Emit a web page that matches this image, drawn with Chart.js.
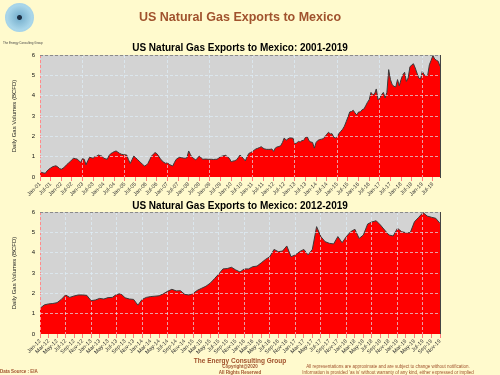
<!DOCTYPE html>
<html>
<head>
<meta charset="UTF-8">
<title>US Natural Gas Exports to Mexico</title>
<script src="https://cdn.jsdelivr.net/npm/chart.js@4.4.1/dist/chart.umd.min.js"></script>
<style>
  body { margin:0; width:500px; height:375px; background:#fffacd; position:relative; overflow:hidden;
         font-family:"Liberation Sans", Arial, sans-serif; }
  .abs { position:absolute; white-space:nowrap; }
  .box { position:absolute; }
  .brown { color:#a0522d; }
</style>
</head>
<body>

<div class="box" style="left:0;top:40px;width:445px;height:160px"><canvas id="chart1"></canvas></div>
<div class="box" style="left:0;top:200px;width:445px;height:160px"><canvas id="chart2"></canvas></div>

<!-- logo -->
<div class="abs" style="left:5px;top:3px;width:29px;height:29px;border-radius:50%;
     background:radial-gradient(circle, #1c2f44 0 2px, #7fb6d2 3px, #a9d6ea 60%, #9fcde3 100%);"></div>
<div class="abs" style="left:3px;top:41px;font-size:3px;color:#444">The Energy Consulting Group</div>

<div class="abs brown" style="left:0;top:10px;width:480px;text-align:center;font-weight:bold;font-size:12.5px;line-height:14px">US Natural Gas Exports to Mexico</div>
<div class="abs" style="left:0;top:42px;width:480px;text-align:center;font-weight:bold;font-size:10px;line-height:12px;color:#000">US Natural Gas Exports to Mexico: 2001-2019</div>
<div class="abs" style="left:0;top:200px;width:480px;text-align:center;font-weight:bold;font-size:10px;line-height:12px;color:#000">US Natural Gas Exports to Mexico: 2012-2019</div>

<!-- footer -->
<div class="abs brown" style="left:0;top:357px;width:480px;text-align:center;font-weight:bold;font-size:6.5px;line-height:8px">The Energy Consulting Group</div>
<div class="abs brown" style="left:0;top:364px;width:480px;text-align:center;font-weight:bold;font-size:4.5px;line-height:5px">Copyright@2020</div>
<div class="abs brown" style="left:0;top:369.5px;width:480px;text-align:center;font-weight:bold;font-size:4.5px;line-height:5px">All Rights Reserved</div>
<div class="abs brown" style="left:0;top:368.5px;font-weight:bold;font-size:4.5px;line-height:5px">Data Source : EIA</div>
<div class="abs brown" style="left:288px;top:363.5px;width:200px;text-align:center;font-size:4.5px;line-height:5px">All representations are approximate and are subject to change without notification.</div>
<div class="abs brown" style="left:288px;top:369.5px;width:200px;text-align:center;font-size:4.5px;line-height:5px">Information is provided 'as is' without warranty of any kind, either expressed or implied</div>

<script>
// monthly exports, BCFD
var exports2001_2011 = [
  0.27, 0.22, 0.20, 0.18, 0.30, 0.38, 0.44, 0.50, 0.53, 0.55, 0.50, 0.42,   // 2001
  0.38, 0.43, 0.50, 0.60, 0.68, 0.75, 0.85, 0.92, 0.90, 0.88, 0.80, 0.72,   // 2002
  0.90, 0.87, 0.60, 0.80, 0.97, 0.95, 0.92, 1.00, 1.02, 1.08, 1.05, 1.03,   // 2003
  0.92, 0.90, 0.87, 1.05, 1.15, 1.20, 1.25, 1.28, 1.22, 1.16, 1.12, 1.10,   // 2004
  1.09, 1.08, 0.85, 0.67, 0.85, 1.03, 0.95, 0.87, 0.78, 0.70, 0.62, 0.54,   // 2005
  0.58, 0.67, 0.85, 1.03, 1.12, 1.20, 1.15, 1.03, 0.90, 0.79, 0.72, 0.67,   // 2006
  0.70, 0.62, 0.58, 0.54, 0.72, 0.87, 0.93, 0.97, 0.95, 0.93, 0.92, 0.95,   // 2007
  1.28, 1.10, 0.97, 0.90, 0.84, 0.93, 1.03, 0.95, 0.87, 0.88, 0.88, 0.87,   // 2008
  0.87, 0.87, 0.86, 0.87, 0.87, 0.93, 1.00, 1.03, 1.05, 1.07, 0.98, 0.92,   // 2009
  0.75, 0.78, 0.80, 0.84, 0.95, 1.08, 1.00, 0.90, 0.79, 1.00, 1.16, 1.20,   // 2010
  1.25, 1.32, 1.38, 1.41, 1.45, 1.49, 1.42, 1.38, 1.36, 1.36, 1.36, 1.38    // 2011
];
var exports2012_2019 = [
  1.26, 1.43, 1.48, 1.50, 1.54, 1.70, 1.92, 1.80, 1.87, 1.92, 1.92, 1.90,   // 2012
  1.64, 1.67, 1.75, 1.72, 1.79, 1.80, 1.95, 1.98, 1.78, 1.72, 1.70, 1.42,   // 2013
  1.70, 1.80, 1.84, 1.86, 1.88, 1.98, 2.10, 2.20, 2.12, 2.13, 1.95, 1.92,   // 2014
  2.00, 2.15, 2.25, 2.35, 2.50, 2.72, 2.95, 3.20, 3.22, 3.28, 3.15, 3.05,   // 2015
  3.20, 3.20, 3.31, 3.34, 3.50, 3.67, 3.80, 4.16, 4.05, 4.08, 4.33, 3.80,   // 2016
  3.89, 4.05, 4.16, 3.89, 4.16, 5.28, 4.79, 4.54, 4.46, 4.43, 4.79, 4.49,   // 2017
  4.79, 5.03, 5.15, 4.70, 4.87, 5.41, 5.51, 5.57, 5.36, 5.11, 4.87, 4.82,   // 2018
  5.20, 5.03, 4.98, 4.98, 5.52, 5.74, 5.97, 5.80, 5.74, 5.69, 5.44          // 2019 (Jan-Nov)
];
var monthNames = ['Jan','Feb','Mar','Apr','May','Jun','Jul','Aug','Sep','Oct','Nov','Dec'];
var yTicks = [0, 1, 2, 3, 4, 5, 6];

function monthLabels(startYear, count) {
  var out = [];
  for (var i = 0; i < count; i++) {
    var yr = startYear + Math.floor(i / 12);
    out.push(monthNames[i % 12] + '-' + String(yr % 100).padStart(2, '0'));
  }
  return out;
}

var allValues = exports2001_2011.concat(exports2012_2019);
var labelsAll = monthLabels(2001, allValues.length);
var labels2012 = monthLabels(2012, exports2012_2019.length);

var plotBg = {
  id: 'plotBg',
  beforeDraw: function (chart) {
    var a = chart.chartArea, ctx = chart.ctx;
    ctx.save();
    ctx.fillStyle = '#d3d3d3';
    ctx.fillRect(a.left, a.top, a.right - a.left, a.bottom - a.top);
    ctx.restore();
  }
};

var gridLight = 'rgba(222,240,250,0.65)';

function makeChart(id, labels, values, labelEvery, gridEvery, padTop, xHeight) {
  return new Chart(document.getElementById(id), {
    type: 'line',
    data: {
      labels: labels,
      datasets: [{
        data: values,
        fill: 'origin',
        backgroundColor: '#ff0000',
        borderColor: '#3a3a3a',
        borderWidth: 1,
        pointRadius: 0,
        tension: 0
      }]
    },
    options: {
      responsive: true,
      maintainAspectRatio: false,
      animation: false,
      layout: { padding: { top: padTop, right: 5, left: 0, bottom: 0 } },
      plugins: { legend: { display: false }, tooltip: { enabled: false } },
      scales: {
        x: {
          type: 'category',
          offset: false,
          afterFit: function (s) { s.height = xHeight; },
          border: { display: false, dash: [3, 2] },
          grid: {
            z: 1,
            drawTicks: true,
            tickLength: 4,
            tickBorderDash: [],
            color: function (c) {
              if (c.index === 0) return '#ff8a8a';
              return c.index % gridEvery === 0 ? gridLight : 'rgba(0,0,0,0)';
            },
            tickColor: function (c) {
              return c.index % labelEvery === 0 ? '#ff7a7a' : 'rgba(0,0,0,0)';
            }
          },
          ticks: {
            autoSkip: false,
            maxRotation: 45,
            minRotation: 45,
            padding: 0,
            color: '#333',
            font: { family: 'Liberation Sans, Arial', size: 5.5 },
            callback: function (v, i) { return i % labelEvery === 0 ? this.getLabelForValue(v) : ''; }
          }
        },
        y: {
          min: 0,
          max: 6,
          afterFit: function (s) { s.width = 40; },
          afterBuildTicks: function (s) { s.ticks = yTicks.map(function (v) { return { value: v }; }); },
          border: { display: false, dash: [3, 2] },
          grid: {
            z: 1,
            drawTicks: false,
            color: function (c) {
              if (c.tick && c.tick.value === 6) return '#8a8a8a';
              if (c.tick && c.tick.value === 0) return 'rgba(0,0,0,0)';
              return gridLight;
            }
          },
          ticks: {
            padding: 5,
            color: '#111',
            font: { family: 'Liberation Sans, Arial', size: 6 }
          },
          title: {
            display: true,
            text: 'Daily Gas Volumes (BCFD)',
            color: '#222',
            padding: { top: 11, bottom: 0 },
            font: { family: 'Liberation Sans, Arial', size: 6 }
          }
        },
        yr: {
          position: 'right',
          min: 0,
          max: 6,
          afterFit: function (s) { s.width = 0; },
          grid: { display: false },
          ticks: { display: false },
          border: { display: true, color: '#444', width: 1 }
        }
      }
    },
    plugins: [plotBg]
  });
}

makeChart('chart1', labelsAll, allValues, 6, 24, 15, 23);
makeChart('chart2', labels2012, exports2012_2019, 2, 6, 12, 26);
</script>
</body>
</html>
